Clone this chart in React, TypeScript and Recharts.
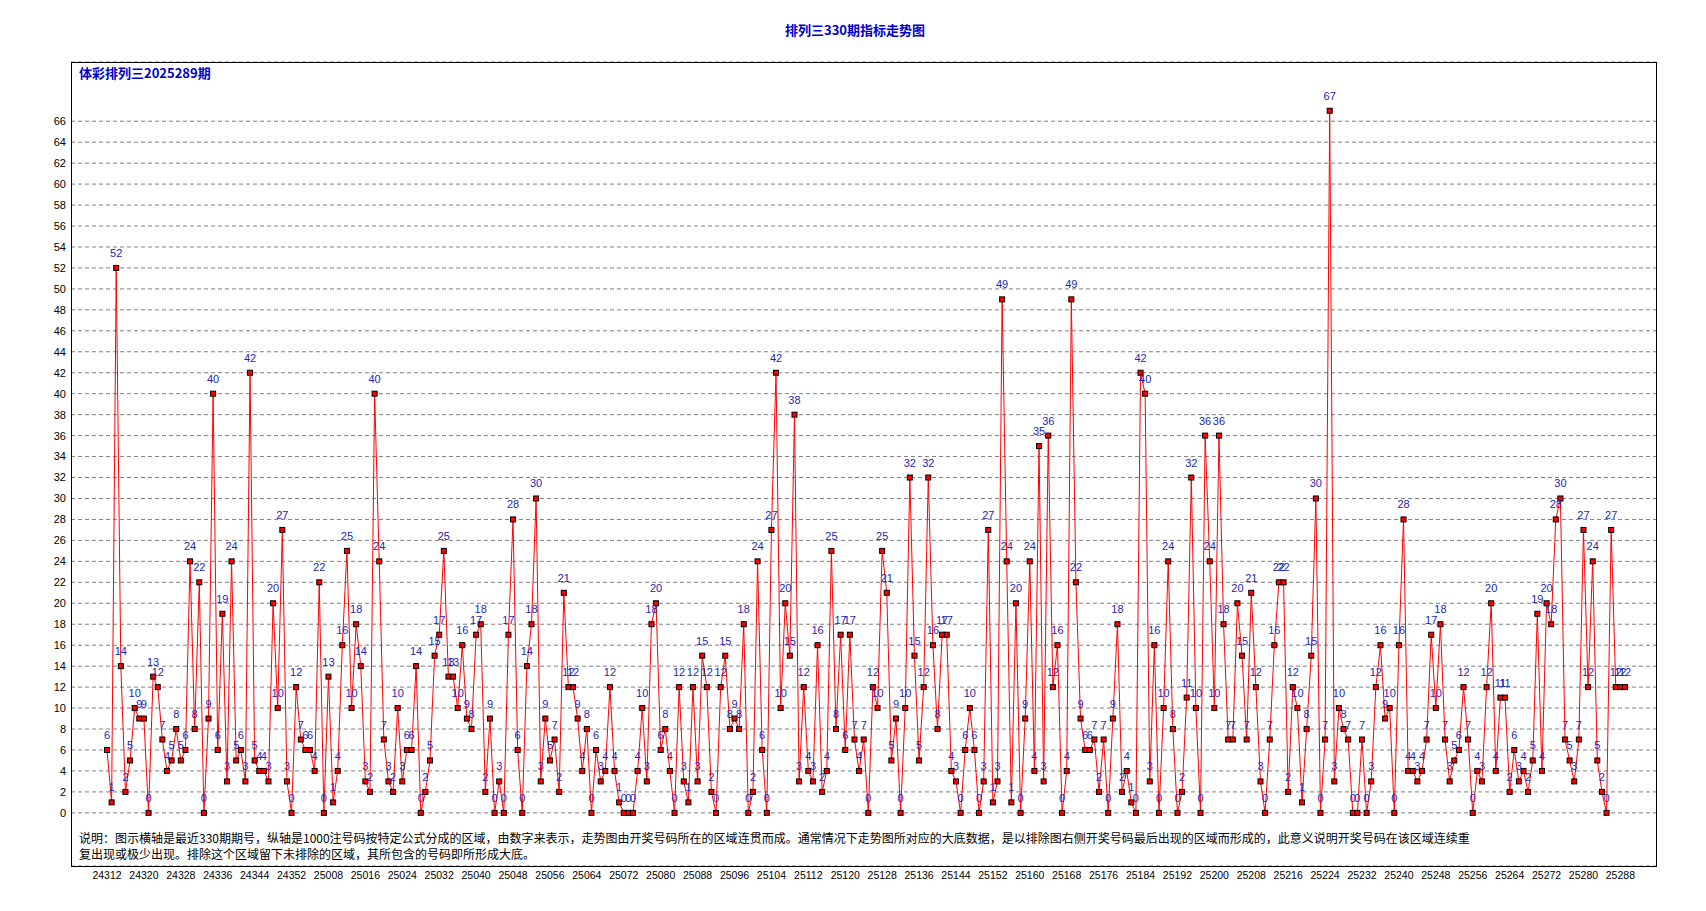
import { LineChart, Line, XAxis, YAxis, CartesianGrid, LabelList } from 'recharts'

// 330 issues: 24312..24352, then 25001..25289
const values = [
  6, 1, 52, 14, 2, 5, 10, 9, 9, 0, 13, 12, 7, 4, 5, 8, 5, 6, 24, 8,
  22, 0, 9, 40, 6, 19, 3, 24, 5, 6, 3, 42, 5, 4, 4, 3, 20, 10, 27, 3,
  0, 12, 7, 6, 6, 4, 22, 0, 13, 1, 4, 16, 25, 10, 18, 14, 3, 2, 40, 24,
  7, 3, 2, 10, 3, 6, 6, 14, 0, 2, 5, 15, 17, 25, 13, 13, 10, 16, 9, 8,
  17, 18, 2, 9, 0, 3, 0, 17, 28, 6, 0, 14, 18, 30, 3, 9, 5, 7, 2, 21,
  12, 12, 9, 4, 8, 0, 6, 3, 4, 12, 4, 1, 0, 0, 0, 4, 10, 3, 18, 20,
  6, 8, 4, 0, 12, 3, 1, 12, 3, 15, 12, 2, 0, 12, 15, 8, 9, 8, 18, 0,
  2, 24, 6, 0, 27, 42, 10, 20, 15, 38, 3, 12, 4, 3, 16, 2, 4, 25, 8, 17,
  6, 17, 7, 4, 7, 0, 12, 10, 25, 21, 5, 9, 0, 10, 32, 15, 5, 12, 32, 16,
  8, 17, 17, 4, 3, 0, 6, 10, 6, 0, 3, 27, 1, 3, 49, 24, 1, 20, 0, 9,
  24, 4, 35, 3, 36, 12, 16, 0, 4, 49, 22, 9, 6, 6, 7, 2, 7, 0, 9, 18,
  2, 4, 1, 0, 42, 40, 3, 16, 0, 10, 24, 8, 0, 2, 11, 32, 10, 0, 36, 24,
  10, 36, 18, 7, 7, 20, 15, 7, 21, 12, 3, 0, 7, 16, 22, 22, 2, 12, 10, 1,
  8, 15, 30, 0, 7, 67, 3, 10, 8, 7, 0, 0, 7, 0, 3, 12, 16, 9, 10, 0,
  16, 28, 4, 4, 3, 4, 7, 17, 10, 18, 7, 3, 5, 6, 12, 7, 0, 4, 3, 12,
  20, 4, 11, 11, 2, 6, 3, 4, 2, 5, 19, 4, 20, 18, 28, 30, 7, 5, 3, 7,
  27, 12, 24, 5, 2, 0, 27, 12, 12, 12
]

const periods: string[] = []
for (let p = 24312; p <= 24352; p++) periods.push(String(p))
for (let p = 25001; p <= 25289; p++) periods.push(String(p))

const xTickLabels = [
  '24312', '24320', '24328', '24336', '24344', '24352', '25008', '25016',
  '25024', '25032', '25040', '25048', '25056', '25064', '25072', '25080',
  '25088', '25096', '25104', '25112', '25120', '25128', '25136', '25144',
  '25152', '25160', '25168', '25176', '25184', '25192', '25200', '25208',
  '25216', '25224', '25232', '25240', '25248', '25256', '25264', '25272',
  '25280', '25288'
]

const yTicks = [
  0, 2, 4, 6, 8, 10, 12, 14, 16, 18, 20, 22, 24, 26, 28, 30, 32, 34,
  36, 38, 40, 42, 44, 46, 48, 50, 52, 54, 56, 58, 60, 62, 64, 66
]

const title = '排列三330期指标走势图'
const subtitle = '体彩排列三2025289期'
const noteLines = [
  '说明：图示横轴是最近330期期号，纵轴是1000注号码按特定公式分成的区域，由数字来表示，走势图由开奖号码所在的区域连贯而成。通常情况下走势图所对应的大底数据，是以排除图右侧开奖号码最后出现的区域而形成的，此意义说明开奖号码在该区域连续重',
  '复出现或极少出现。排除这个区域留下未排除的区域，其所包含的号码即所形成大底。'
]

const data = periods.map((period, i) => ({ period, value: values[i] }))

const W = 1706
const H = 911
const plot = { left: 71, top: 62, right: 1656, bottom: 866 }
const yAxisW = 40
const xAxisH = 24

const numFont = '"Liberation Sans", Arial, sans-serif'
const cjkFont = '"Noto Sans CJK SC", "Liberation Sans", sans-serif'

function SquareDot(props: any) {
  const { cx, cy, index } = props
  if (cx == null || cy == null) return <g key={`d${index}`} />
  return (
    <rect
      key={`d${index}`}
      x={cx - 2.5}
      y={cy - 2.5}
      width={5}
      height={5}
      fill="#ff0000"
      stroke="#000000"
      strokeWidth={1}
    />
  )
}

function PointLabel(props: any) {
  const { x, y, value, index } = props
  if (x == null || y == null) return null
  return (
    <text
      key={`l${index}`}
      x={x}
      y={y - 11}
      textAnchor="middle"
      fontSize={11}
      fontFamily={numFont}
      fill="#2424b4"
    >
      {value}
    </text>
  )
}

export default function App() {
  return (
    <div style={{ position: 'absolute', left: 0, top: 0, width: W, height: H, background: '#fff' }}>
      <LineChart
        width={W}
        height={H}
        data={data}
        margin={{
          top: plot.top,
          right: W - plot.right,
          bottom: H - plot.bottom - xAxisH,
          left: plot.left - yAxisW
        }}
      >
        <CartesianGrid vertical={false} stroke="#808080" strokeDasharray="4 3" />
        <XAxis
          dataKey="period"
          ticks={xTickLabels}
          interval={0}
          height={xAxisH}
          axisLine={false}
          tickLine={false}
          tickSize={0}
          tickMargin={6}
          padding={{ left: 36, right: 31 }}
          tick={{ fill: '#000', fontSize: 10.5, fontFamily: numFont }}
        />
        <YAxis
          type="number"
          domain={[-5.07, 71.65]}
          allowDataOverflow
          ticks={yTicks}
          interval={0}
          width={yAxisW}
          axisLine={false}
          tickLine={false}
          tickSize={0}
          tickMargin={5}
          tick={{ fill: '#000', fontSize: 11, fontFamily: numFont }}
        />
        <Line
          dataKey="value"
          stroke="none"
          dot={false}
          activeDot={false}
          isAnimationActive={false}
        >
          <LabelList dataKey="value" content={PointLabel} />
        </Line>
        <Line
          type="linear"
          dataKey="value"
          stroke="#ff0000"
          strokeWidth={1}
          dot={SquareDot}
          activeDot={false}
          isAnimationActive={false}
        />
      </LineChart>

      <div
        style={{
          position: 'absolute',
          left: plot.left,
          top: plot.top,
          width: plot.right - plot.left - 1,
          height: plot.bottom - plot.top - 1,
          border: '1px solid #000',
          pointerEvents: 'none'
        }}
      />

      <div
        style={{
          position: 'absolute',
          left: 0,
          width: 1710,
          top: 21,
          textAlign: 'center',
          fontFamily: cjkFont,
          fontSize: 13,
          fontWeight: 'bold',
          color: '#0000cc',
          lineHeight: '18px'
        }}
      >
        {title}
      </div>

      <div
        style={{
          position: 'absolute',
          left: 79,
          top: 64,
          fontFamily: cjkFont,
          fontSize: 13,
          fontWeight: 'bold',
          color: '#0000cc',
          lineHeight: '18px'
        }}
      >
        {subtitle}
      </div>

      <div
        style={{
          position: 'absolute',
          left: 79,
          top: 830,
          fontFamily: cjkFont,
          fontSize: 12,
          color: '#000',
          lineHeight: '16px',
          whiteSpace: 'nowrap'
        }}
      >
        {noteLines.map((t, i) => (
          <div key={i}>{t}</div>
        ))}
      </div>
    </div>
  )
}
